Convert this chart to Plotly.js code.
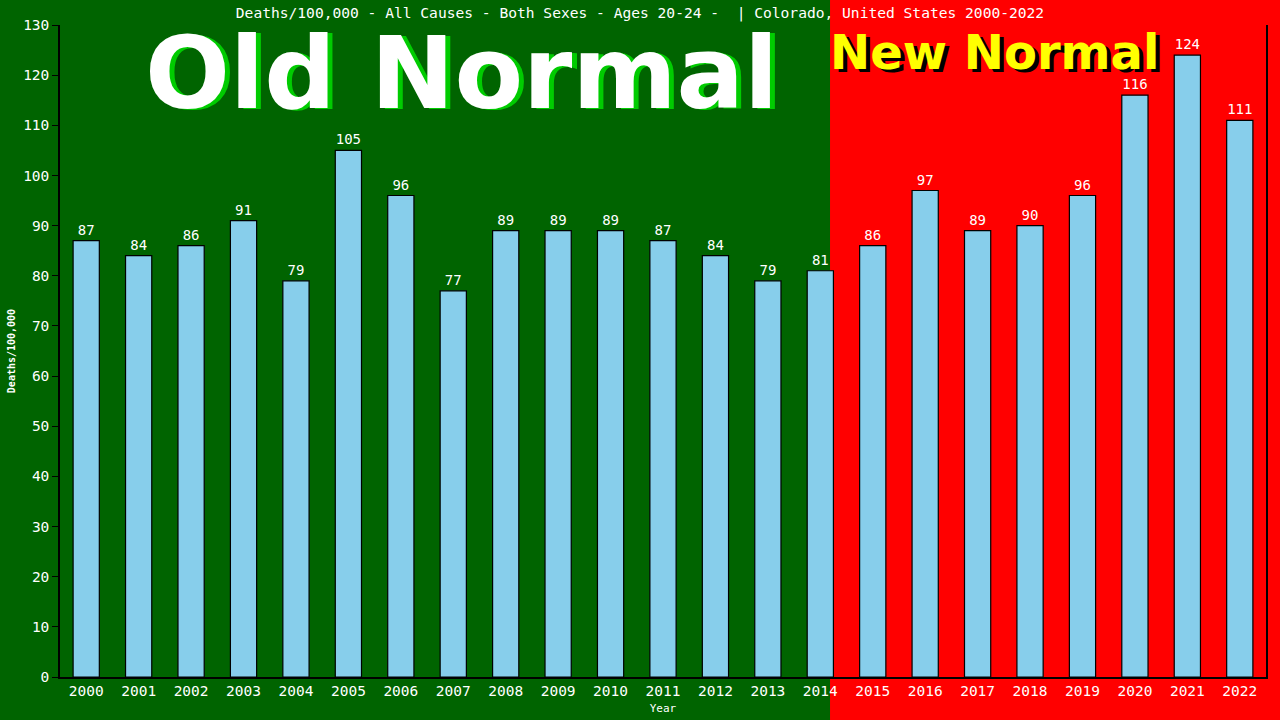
<!DOCTYPE html>
<html>
<head>
<meta charset="utf-8">
<script src="https://cdn.plot.ly/plotly-3.0.1.min.js"></script>
<style>
  html, body { margin: 0; padding: 0; background: #006400; }
  #chart { width: 1280px; height: 720px; }
</style>
</head>
<body>
<div id="chart"></div>
<script>
/******************** DATA ********************/
const years  = ["2000","2001","2002","2003","2004","2005","2006","2007","2008","2009","2010","2011",
                "2012","2013","2014","2015","2016","2017","2018","2019","2020","2021","2022"];
const deaths = [87, 84, 86, 91, 79, 105, 96, 77, 89, 89, 89, 87,
                84, 79, 81, 86, 97, 89, 90, 96, 116, 124, 111];

const chartTitle = "Deaths/100,000 - All Causes - Both Sexes - Ages 20-24 -  | Colorado, United States 2000-2022";

const MONO = "'DejaVu Sans Mono', 'Liberation Mono', monospace";
const SANS = "'DejaVu Sans', Verdana, sans-serif";

/******************** TRACE ********************/
const trace = {
  type: "bar",
  x: years,
  y: deaths,
  text: deaths.map(String),
  textposition: "outside",
  cliponaxis: false,
  textfont: { family: MONO, size: 14, color: "white" },
  marker: { color: "#87CEEB", line: { color: "#000000", width: 1.2 } },
  hoverinfo: "x+y"
};

/******************** LAYOUT ********************/
const layout = {
  width: 1280,
  height: 720,
  margin: { l: 60, r: 14, t: 25, b: 43 },
  paper_bgcolor: "#006400",
  plot_bgcolor: "rgba(0,0,0,0)",
  bargap: 0.5,
  showlegend: false,
  title: {
    text: chartTitle,
    font: { family: MONO, size: 14.6, color: "white" },
    x: 0.5, xanchor: "center",
    y: 0.982, yanchor: "middle"
  },
  xaxis: {
    type: "category",
    showgrid: false,
    showline: true, linecolor: "black", linewidth: 1.5,
    ticks: "",
    tickfont: { family: MONO, size: 14.5, color: "white" },
    title: { text: "Year", font: { family: MONO, size: 11, color: "white" }, standoff: 6 }
  },
  yaxis: {
    range: [0, 130],
    dtick: 10,
    showgrid: false,
    zeroline: false,
    showline: true, linecolor: "black", linewidth: 1.5, mirror: true,
    ticks: "outside", ticklen: 6, tickcolor: "black",
    tickfont: { family: MONO, size: 14.5, color: "white" },
    title: { text: "<b>Deaths/100,000</b>", font: { family: MONO, size: 10, color: "white" }, standoff: 6 }
  },
  shapes: [
    // red "new normal" background, from mid-2014 to the right edge
    { type: "rect", xref: "paper", yref: "paper", x0: 0.6385, x1: 1.2, y0: -0.2, y1: 1.2,
      fillcolor: "#FF0000", line: { width: 0 }, layer: "below" }
  ],
  annotations: [
    { xref: "paper", yref: "paper", x: 0.3333, y: 0.925, xanchor: "center", yanchor: "middle",
      xshift: 5, yshift: -1, showarrow: false,
      text: "<b>Old Normal</b>", font: { family: SANS, size: 100, color: "#00CC00" } },
    { xref: "paper", yref: "paper", x: 0.3333, y: 0.925, xanchor: "center", yanchor: "middle",
      showarrow: false,
      text: "<b>Old Normal</b>", font: { family: SANS, size: 100, color: "white" } },
    { xref: "paper", yref: "paper", x: 0.7745, y: 0.9586, xanchor: "center", yanchor: "middle",
      xshift: 4, yshift: -3, showarrow: false,
      text: "<b>New Normal</b>", font: { family: SANS, size: 48, color: "black" } },
    { xref: "paper", yref: "paper", x: 0.7745, y: 0.9586, xanchor: "center", yanchor: "middle",
      showarrow: false,
      text: "<b>New Normal</b>", font: { family: SANS, size: 48, color: "#FFFF00" } }
  ]
};

const config = { displayModeBar: false, responsive: false };

Plotly.newPlot("chart", [trace], layout, config);
</script>
</body>
</html>
